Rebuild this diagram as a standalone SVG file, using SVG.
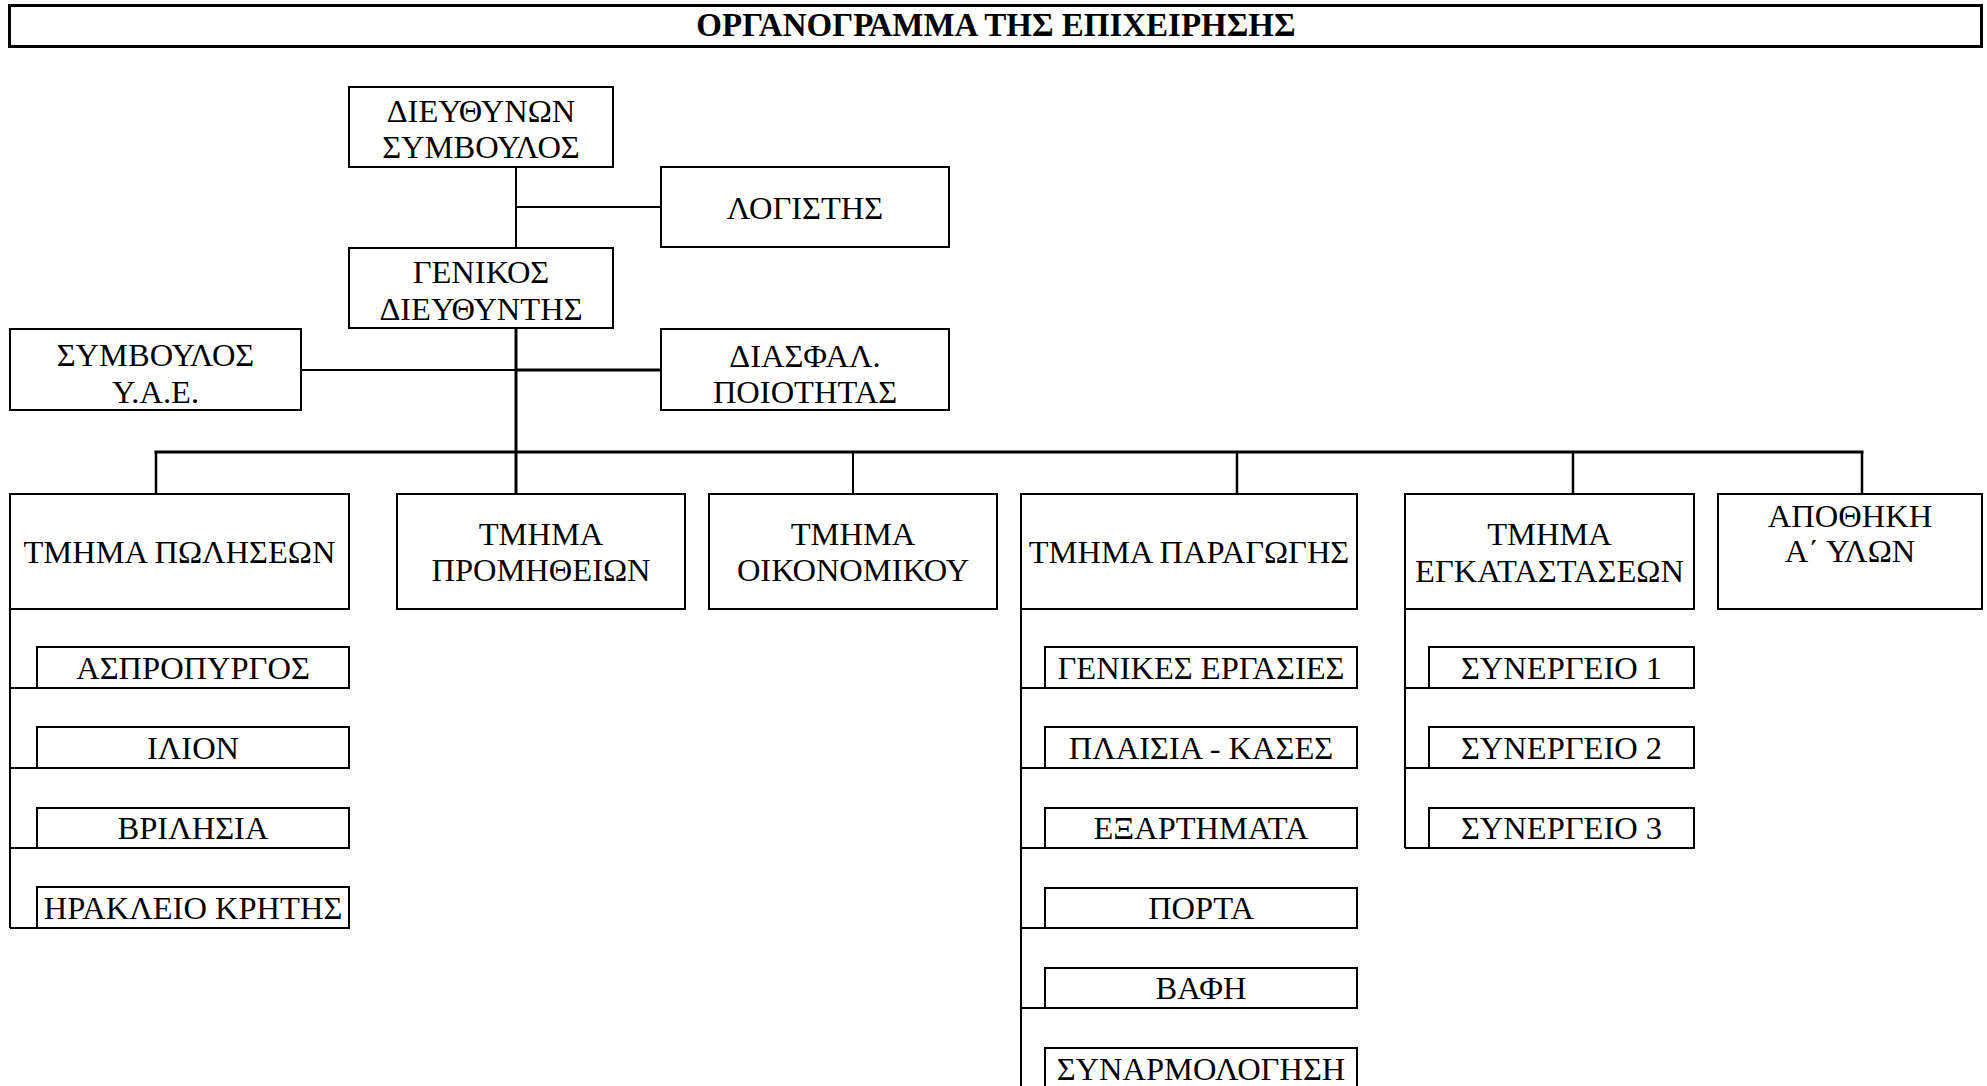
<svg xmlns="http://www.w3.org/2000/svg" width="1987" height="1086" viewBox="0 0 1987 1086">
  <style>
    .box { fill: #fff; stroke: #000; stroke-width: 2; }
    .title-box { fill: #fff; stroke: #000; stroke-width: 3; }
    .lbl { font-family: "Liberation Serif", "Times New Roman", serif; font-size: 32.5px; fill: #000; text-anchor: middle; }
    .ttl { font-family: "Liberation Serif", "Times New Roman", serif; font-size: 33px; font-weight: bold; fill: #000; text-anchor: middle; }
    .ln { stroke: #000; fill: none; stroke-width: 2; }
    .ln-thick { stroke: #000; fill: none; stroke-width: 3; }
    .ln-drop { stroke: #000; fill: none; stroke-width: 2.5; }
  </style>
  <rect width="1987" height="1086" fill="#fff"/>

  <!-- heading -->
  <g id="title">
    <rect class="title-box" x="9.5" y="5.5" width="1972" height="41"/>
    <text class="ttl" x="996" y="36">ΟΡΓΑΝΟΓΡΑΜΜΑ ΤΗΣ ΕΠΙΧΕΙΡΗΣΗΣ</text>
  </g>

  <!-- connectors -->
  <g id="connectors">
    <line class="ln" x1="516" y1="167" x2="516" y2="248"/>
    <line class="ln" x1="516" y1="207" x2="661" y2="207"/>
    <line class="ln-thick" x1="516" y1="328" x2="516" y2="494"/>
    <line class="ln" x1="301" y1="370" x2="516" y2="370"/>
    <line class="ln-thick" x1="516" y1="370" x2="661" y2="370"/>
    <line class="ln-thick" x1="154.5" y1="452" x2="1863.5" y2="452"/>
    <line class="ln-drop" x1="156" y1="452" x2="156" y2="494"/>
    <line class="ln" x1="853" y1="452" x2="853" y2="494"/>
    <line class="ln-drop" x1="1237" y1="452" x2="1237" y2="494"/>
    <line class="ln-drop" x1="1573" y1="452" x2="1573" y2="494"/>
    <line class="ln-drop" x1="1862" y1="452" x2="1862" y2="494"/>
    <!-- sales branches -->
    <path class="ln" d="M10 609 V928 M10 688 H37 M10 768 H37 M10 848 H37 M10 928 H37"/>
    <!-- production branches -->
    <path class="ln" d="M1021 609 V1086 M1021 688 H1045 M1021 768 H1045 M1021 848 H1045 M1021 928 H1045 M1021 1008 H1045"/>
    <!-- installations branches -->
    <path class="ln" d="M1405 609 V848 M1405 688 H1429 M1405 768 H1429 M1405 848 H1429"/>
  </g>

  <!-- management -->
  <g id="ceo">
    <rect class="box" x="349" y="87" width="264" height="80"/>
    <text class="lbl" x="481" y="122">ΔΙΕΥΘΥΝΩΝ</text>
    <text class="lbl" x="481" y="158">ΣΥΜΒΟΥΛΟΣ</text>
  </g>
  <g id="accountant">
    <rect class="box" x="661" y="167" width="288" height="80"/>
    <text class="lbl" x="805" y="219">ΛΟΓΙΣΤΗΣ</text>
  </g>
  <g id="general-manager">
    <rect class="box" x="349" y="248" width="264" height="80"/>
    <text class="lbl" x="481" y="283">ΓΕΝΙΚΟΣ</text>
    <text class="lbl" x="481" y="320">ΔΙΕΥΘΥΝΤΗΣ</text>
  </g>
  <g id="safety-advisor">
    <rect class="box" x="10" y="329" width="291" height="81"/>
    <text class="lbl" x="155.5" y="366">ΣΥΜΒΟΥΛΟΣ</text>
    <text class="lbl" x="155.5" y="403">Υ.Α.Ε.</text>
  </g>
  <g id="quality-assurance">
    <rect class="box" x="661" y="329" width="288" height="81"/>
    <text class="lbl" x="805" y="367">ΔΙΑΣΦΑΛ.</text>
    <text class="lbl" x="805" y="403">ΠΟΙΟΤΗΤΑΣ</text>
  </g>

  <!-- departments -->
  <g id="sales">
    <rect class="box" x="10" y="494" width="339" height="115"/>
    <text class="lbl" x="179.5" y="563">ΤΜΗΜΑ ΠΩΛΗΣΕΩΝ</text>
  </g>
  <g id="procurement">
    <rect class="box" x="397" y="494" width="288" height="115"/>
    <text class="lbl" x="541" y="545">ΤΜΗΜΑ</text>
    <text class="lbl" x="541" y="581">ΠΡΟΜΗΘΕΙΩΝ</text>
  </g>
  <g id="finance">
    <rect class="box" x="709" y="494" width="288" height="115"/>
    <text class="lbl" x="853" y="545">ΤΜΗΜΑ</text>
    <text class="lbl" x="853" y="581">ΟΙΚΟΝΟΜΙΚΟΥ</text>
  </g>
  <g id="production">
    <rect class="box" x="1021" y="494" width="336" height="115"/>
    <text class="lbl" x="1189" y="563">ΤΜΗΜΑ ΠΑΡΑΓΩΓΗΣ</text>
  </g>
  <g id="installations">
    <rect class="box" x="1405" y="494" width="289" height="115"/>
    <text class="lbl" x="1549.5" y="545">ΤΜΗΜΑ</text>
    <text class="lbl" x="1549.5" y="582">ΕΓΚΑΤΑΣΤΑΣΕΩΝ</text>
  </g>
  <g id="warehouse">
    <rect class="box" x="1718" y="494" width="264" height="115"/>
    <text class="lbl" x="1850" y="527">ΑΠΟΘΗΚΗ</text>
    <text class="lbl" x="1850" y="562">Α΄ ΥΛΩΝ</text>
  </g>

  <!-- sales branches -->
  <g id="aspropyrgos">
    <rect class="box" x="37" y="647" width="312" height="41"/>
    <text class="lbl" x="193" y="679">ΑΣΠΡΟΠΥΡΓΟΣ</text>
  </g>
  <g id="ilion">
    <rect class="box" x="37" y="727" width="312" height="41"/>
    <text class="lbl" x="193" y="759">ΙΛΙΟΝ</text>
  </g>
  <g id="vrilissia">
    <rect class="box" x="37" y="808" width="312" height="40"/>
    <text class="lbl" x="193" y="839">ΒΡΙΛΗΣΙΑ</text>
  </g>
  <g id="heraklion">
    <rect class="box" x="37" y="887" width="312" height="41"/>
    <text class="lbl" x="193" y="919">ΗΡΑΚΛΕΙΟ ΚΡΗΤΗΣ</text>
  </g>

  <!-- production units -->
  <g id="general-works">
    <rect class="box" x="1045" y="647" width="312" height="41"/>
    <text class="lbl" x="1201" y="679">ΓΕΝΙΚΕΣ ΕΡΓΑΣΙΕΣ</text>
  </g>
  <g id="frames">
    <rect class="box" x="1045" y="727" width="312" height="41"/>
    <text class="lbl" x="1201" y="759">ΠΛΑΙΣΙΑ - ΚΑΣΕΣ</text>
  </g>
  <g id="parts">
    <rect class="box" x="1045" y="808" width="312" height="40"/>
    <text class="lbl" x="1201" y="839">ΕΞΑΡΤΗΜΑΤΑ</text>
  </g>
  <g id="doors">
    <rect class="box" x="1045" y="888" width="312" height="40"/>
    <text class="lbl" x="1201" y="919">ΠΟΡΤΑ</text>
  </g>
  <g id="painting">
    <rect class="box" x="1045" y="968" width="312" height="40"/>
    <text class="lbl" x="1201" y="999">ΒΑΦΗ</text>
  </g>
  <g id="assembly">
    <rect class="box" x="1045" y="1048" width="312" height="40"/>
    <text class="lbl" x="1201" y="1080">ΣΥΝΑΡΜΟΛΟΓΗΣΗ</text>
  </g>

  <!-- workshops -->
  <g id="workshop-1">
    <rect class="box" x="1429" y="647" width="265" height="41"/>
    <text class="lbl" x="1561.5" y="679">ΣΥΝΕΡΓΕΙΟ 1</text>
  </g>
  <g id="workshop-2">
    <rect class="box" x="1429" y="727" width="265" height="41"/>
    <text class="lbl" x="1561.5" y="759">ΣΥΝΕΡΓΕΙΟ 2</text>
  </g>
  <g id="workshop-3">
    <rect class="box" x="1429" y="808" width="265" height="40"/>
    <text class="lbl" x="1561.5" y="839">ΣΥΝΕΡΓΕΙΟ 3</text>
  </g>
</svg>
